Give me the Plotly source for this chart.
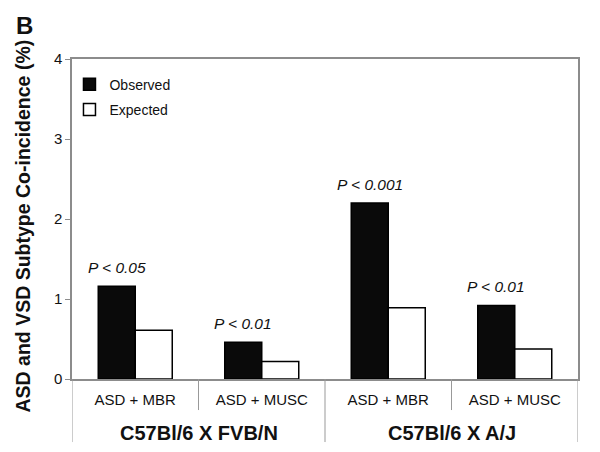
import plotly.graph_objects as go

categories = ["ASD + MBR", "ASD + MUSC", "ASD + MBR", "ASD + MUSC"]
groups = ["C57Bl/6 X FVB/N", "C57Bl/6 X A/J"]
observed = [1.16, 0.46, 2.20, 0.92]
expected = [0.61, 0.22, 0.89, 0.375]
p_labels = ["P < 0.05", "P < 0.01", "P < 0.001", "P < 0.01"]
y_ticks = [0, 1, 2, 3, 4]

FONT = "Arial, Liberation Sans, sans-serif"
GREY = "#8c8c8c"
bargap = 0.415
xs = list(range(len(categories)))

# page has an 8px body margin; figure is sized so it fits in the window
W, H = 592, 444
L, R, T, B = 64, 22, 51, 73
PW, PH = W - L - R, H - T - B


def px_x(x):
    return (x - L) / PW


def px_y(y):
    return (H - B - y) / PH


fig = go.Figure()
fig.add_trace(go.Bar(x=xs, y=observed, name="Observed", legendgroup="o",
                     marker=dict(color="#0a0a0a", line=dict(color="#000", width=1.5))))
fig.add_trace(go.Bar(x=xs, y=expected, name="Expected", legendgroup="e",
                     marker=dict(color="white", line=dict(color="#000", width=1.5))))

shift = (1 - bargap) / 4
for i, (v, lab) in enumerate(zip(observed, p_labels)):
    fig.add_annotation(x=i - shift, y=v, xref="x", yref="y", text="<i>" + lab + "</i>",
                       showarrow=False, yshift=19, xanchor="center", yanchor="middle",
                       font=dict(size=15.5, color="#111", family=FONT))

for g, name in enumerate(groups):
    fig.add_annotation(x=2 * g + 0.5, y=-0.169, xref="x", yref="paper",
                       text="<b>" + name + "</b>", showarrow=False,
                       xanchor="center", yanchor="middle",
                       font=dict(size=20, color="#111", family=FONT))

# separator lines below axis
for xb, yb in [(-0.5, -0.197), (0.5, -0.097), (1.5, -0.197), (2.5, -0.097), (3.5, -0.197)]:
    fig.add_shape(type="line", xref="x", yref="paper", x0=xb, x1=xb, y0=0, y1=yb,
                  line=dict(color="#999", width=1))

fig.add_annotation(x=px_x(14.5), y=px_y(218), xref="paper", yref="paper",
                   text="<b>ASD and VSD Subtype Co-incidence (%)</b>", textangle=-90,
                   showarrow=False, xanchor="center", yanchor="middle",
                   font=dict(size=19.5, color="#111", family=FONT))
fig.add_annotation(x=px_x(16), y=px_y(17), xref="paper", yref="paper", text="<b>B</b>",
                   showarrow=False, xanchor="center", yanchor="middle",
                   font=dict(size=24, color="#111", family=FONT))

fig.update_layout(
    width=W, height=H,
    margin=dict(l=L, r=R, t=T, b=B),
    paper_bgcolor="white", plot_bgcolor="white",
    barmode="group", bargap=bargap, bargroupgap=0,
    font=dict(family=FONT, size=14, color="#111"),
    showlegend=True,
    legend=dict(x=-0.005, y=0.97, xanchor="left", yanchor="top", bgcolor="rgba(0,0,0,0)",
                font=dict(size=14, family=FONT, color="#111"), traceorder="grouped",
                tracegroupgap=4, itemwidth=30),
    xaxis=dict(tickmode="array", tickvals=xs, ticktext=categories, range=[-0.5, 3.5],
               showline=True, linecolor=GREY, linewidth=1.5, mirror=True, ticks="",
               showgrid=False, zeroline=False, tickfont=dict(size=15), ticklabelstandoff=6),
    yaxis=dict(range=[0, 4], tickvals=y_ticks, showline=True, linecolor=GREY, linewidth=1.5,
               mirror=True, ticks="outside", ticklen=5, tickcolor=GREY, showgrid=False,
               zeroline=False, tickfont=dict(size=15)),
)

fig.write_html("out.html")
